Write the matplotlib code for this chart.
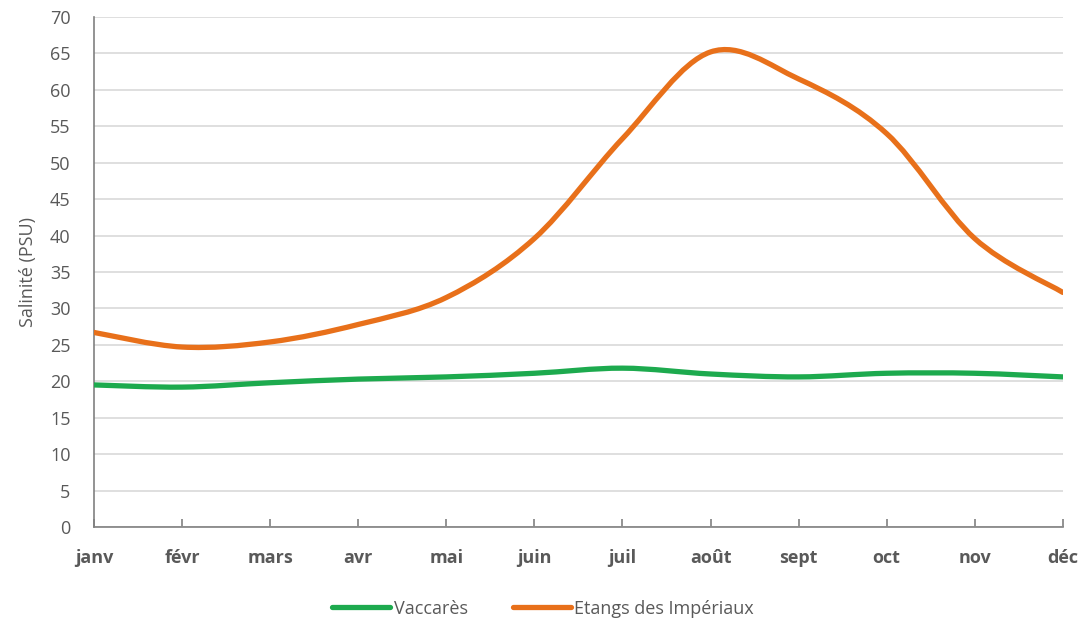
import numpy as np
import matplotlib
matplotlib.use("Agg")
import matplotlib.pyplot as plt
from matplotlib.path import Path
from matplotlib.patches import PathPatch
from matplotlib.lines import Line2D

# données
mois = ["janv", "févr", "mars", "avr", "mai", "juin", "juil", "août", "sept", "oct", "nov", "déc"]
vaccares = [19.5, 19.2, 19.8, 20.3, 20.6, 21.1, 21.8, 21.0, 20.6, 21.1, 21.1, 20.6]
imperiaux = [26.7, 24.7, 25.4, 27.8, 31.5, 39.6, 53.3, 65.2, 61.5, 54.0, 39.6, 32.2]

vert = "#1DAA4E"
orange = "#E8701A"
gris_txt = "#595959"

plt.rcParams["font.family"] = ["Open Sans", "DejaVu Sans"]


def courbe_lissee(x, y):
    """Courbe lissée type Excel (Catmull-Rom -> Bézier cubique)"""
    x = np.asarray(x, float)
    y = np.asarray(y, float)
    pts = np.column_stack([x, y])
    verts = [pts[0]]
    codes = [Path.MOVETO]
    n = len(pts)
    for i in range(n - 1):
        p0 = pts[i - 1] if i > 0 else pts[i]
        p1 = pts[i]
        p2 = pts[i + 1]
        p3 = pts[i + 2] if i + 2 < n else pts[i + 1]
        c1 = p1 + (p2 - p0) / 6.0
        c2 = p2 - (p3 - p1) / 6.0
        verts += [c1, c2, p2]
        codes += [Path.CURVE4] * 3
    return Path(verts, codes)


fig = plt.figure(figsize=(10.86, 6.25), dpi=100)
ax = fig.add_axes([0.0866, 0.1568, 0.8920, 0.816])

x = np.arange(len(mois))
for serie, couleur in [(vaccares, vert), (imperiaux, orange)]:
    patch = PathPatch(courbe_lissee(x, serie), facecolor="none", edgecolor=couleur,
                      lw=3.8, capstyle="round", joinstyle="round", zorder=3)
    ax.add_patch(patch)

ax.set_xlim(0, len(mois) - 1)
ax.set_ylim(0, 70)
ax.set_yticks(np.arange(0, 71, 5))
ax.set_xticks(x)
ax.set_xticklabels(mois, fontweight="bold")

ax.grid(axis="y", color="#D9D9D9", lw=1.2)
ax.set_axisbelow(True)
for s in ["top", "right"]:
    ax.spines[s].set_visible(False)
for s in ["left", "bottom"]:
    ax.spines[s].set_color("#808080")
    ax.spines[s].set_linewidth(1.2)

ax.tick_params(axis="y", length=0, labelsize=13, labelcolor=gris_txt, pad=17)
ax.tick_params(axis="x", direction="in", length=6, color="#808080", width=1.2,
               labelsize=13, labelcolor=gris_txt, pad=16)
ax.set_ylabel("Salinité (PSU)", fontsize=13, color=gris_txt, labelpad=9)

handles = [Line2D([], [], color=vert, lw=3.8, solid_capstyle="round"),
           Line2D([], [], color=orange, lw=3.8, solid_capstyle="round")]
fig.legend(handles, ["Vaccarès", "Etangs des Impériaux"], loc="center",
           bbox_to_anchor=(0.5, 0.026), ncol=2, frameon=False, fontsize=13,
           labelcolor=gris_txt, handlelength=3.2, handletextpad=0.2, columnspacing=2.5)

fig.savefig("out.png", dpi=100)
